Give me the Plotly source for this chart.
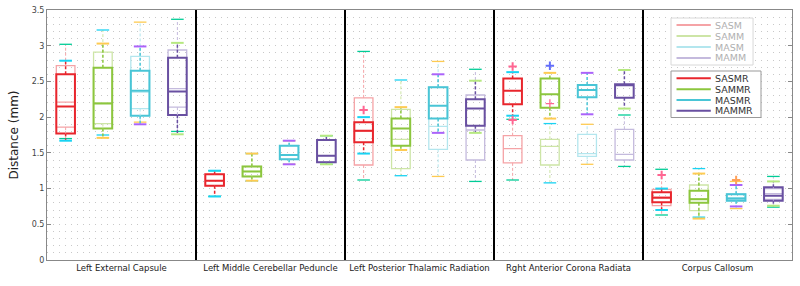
import plotly.graph_objects as go

# ---------------- data ----------------
categories = ["Left External Capsule", "Left Middle Cerebellar Peduncle",
              "Left Posterior Thalamic Radiation", "Rght Anterior Corona Radiata",
              "Corpus Callosum"]

# each row: [lower whisker, q1, median, q3, upper whisker] per category
SASM = [[1.70, 1.86, 2.21, 2.72, 3.02],
        [0.89, 1.04, 1.11, 1.20, 1.25],
        [1.12, 1.33, 1.80, 2.27, 2.92],
        [1.12, 1.36, 1.56, 1.74, 1.97],
        [0.63, 0.76, 0.88, 0.99, 1.27]]
SAMM = [[1.75, 1.91, 2.20, 2.91, 3.22],
        [1.11, 1.17, 1.24, 1.31, 1.49],
        [1.18, 1.28, 1.69, 2.11, 2.52],
        [1.08, 1.33, 1.59, 1.69, 1.91],
        [0.60, 0.69, 0.86, 1.05, 1.28]]
MASM = [[1.93, 2.12, 2.35, 2.85, 3.33],
        [1.34, 1.41, 1.47, 1.60, 1.67],
        [1.17, 1.55, 1.87, 2.42, 2.78],
        [1.34, 1.45, 1.49, 1.76, 1.90],
        [0.72, 0.83, 0.87, 0.93, 1.10]]
MAMM = [[1.80, 2.14, 2.40, 2.94, 3.37],
        [1.34, 1.37, 1.46, 1.68, 1.74],
        [1.10, 1.40, 1.82, 2.31, 2.67],
        [1.31, 1.40, 1.48, 1.83, 2.03],
        [0.74, 0.85, 0.93, 1.00, 1.17]]
SASMR = [[1.67, 1.77, 2.15, 2.60, 2.79],
         [0.89, 1.04, 1.11, 1.20, 1.25],
         [1.49, 1.65, 1.81, 1.93, 2.00],
         [2.02, 2.18, 2.37, 2.54, 2.63],
         [0.70, 0.81, 0.87, 0.95, 1.00]]
SAMMR = [[1.71, 1.84, 2.19, 2.69, 3.03],
         [1.11, 1.17, 1.24, 1.31, 1.49],
         [1.54, 1.60, 1.84, 1.98, 2.14],
         [1.98, 2.13, 2.32, 2.54, 2.62],
         [0.58, 0.80, 0.85, 0.97, 1.21]]
MASMR = [[1.90, 2.02, 2.37, 2.65, 2.99],
         [1.34, 1.41, 1.47, 1.60, 1.67],
         [1.78, 1.98, 2.16, 2.42, 2.60],
         [2.04, 2.28, 2.38, 2.45, 2.62],
         [0.75, 0.83, 0.86, 0.92, 1.05]]
MAMMR = [[1.76, 2.03, 2.36, 2.83, 3.04],
         [1.34, 1.37, 1.46, 1.68, 1.74],
         [1.78, 1.88, 2.12, 2.25, 2.51],
         [2.12, 2.27, 2.45, 2.46, 2.66],
         [0.76, 0.83, 0.90, 1.02, 1.10]]

# outliers (category index, value)
SASM_out = []
SAMM_out = [(3, 2.19)]
MASM_out = []
MAMM_out = []
SASMR_out = [(2, 2.10), (3, 2.71), (3, 1.96), (4, 1.19)]
SAMMR_out = [(3, 2.72)]
MASMR_out = [(4, 1.12)]
MAMMR_out = []

series_names = ["SASM", "SAMM", "MASM", "MAMM", "SASMR", "SAMMR", "MASMR", "MAMMR"]
y_ticks = [0, 0.5, 1, 1.5, 2, 2.5, 3, 3.5]

# ---------------- styling ----------------
faded_colors = ["#f5a3a6", "#cde5a6", "#b3e6ee", "#c4badd"]
strong_colors = ["#e8262d", "#8cc63e", "#49c5d6", "#6950a1"]

stats = [SASM, SAMM, MASM, MAMM, SASMR, SAMMR, MASMR, MAMMR]
outs = [SASM_out, SAMM_out, MASM_out, MAMM_out, SASMR_out, SAMMR_out, MASMR_out, MAMMR_out]
colors = faded_colors + strong_colors
widths = [1.3] * 4 + [2.0] * 4

n_groups = 4
fig = go.Figure()

for s, (name, data, out, col, lw) in enumerate(zip(series_names, stats, outs, colors, widths)):
    g = s % n_groups
    pos = [c * n_groups + g + 0.5 for c in range(len(categories))]
    lo = [r[0] for r in data]
    q1 = [r[1] for r in data]
    med = [r[2] for r in data]
    q3 = [r[3] for r in data]
    hi = [r[4] for r in data]
    fig.add_trace(go.Box(x=pos, q1=q1, median=med, q3=q3, lowerfence=q1, upperfence=q3,
                         width=0.5, whiskerwidth=0, line=dict(color=col, width=lw),
                         fillcolor="rgba(0,0,0,0)", name=name, showlegend=False,
                         hoverinfo="skip"))
    wx, wy = [], []
    for p, a, b, c, d in zip(pos, lo, q1, q3, hi):
        wx += [p, p, None, p, p, None]
        wy += [c, d, None, b, a, None]
    fig.add_trace(go.Scatter(x=wx, y=wy, mode="lines", showlegend=False, hoverinfo="skip",
                             line=dict(color=col, width=max(lw - 0.5, 1), dash="3px,2px")))
    fig.add_trace(go.Scatter(x=pos + pos, y=lo + hi, mode="markers", showlegend=False,
                             hoverinfo="skip",
                             marker=dict(symbol="line-ew-open", size=9,
                                         line=dict(color=col, width=lw))))
    if out:
        fig.add_trace(go.Scatter(x=[pos[c] for c, v in out], y=[v for c, v in out],
                                 mode="markers", showlegend=False, hoverinfo="skip",
                                 marker=dict(symbol="cross-thin-open", size=6,
                                             line=dict(color=col, width=lw))))

# panel separators
for c in range(1, len(categories)):
    fig.add_shape(type="line", xref="x", yref="paper", x0=c * n_groups, x1=c * n_groups,
                  y0=0, y1=1, line=dict(color="black", width=2), layer="above")

# legend boxes (drawn as two framed lists, like the original)
def legend_box(names, cols, x0, x1, y0, y1, rows, textcol, border):
    fig.add_shape(type="rect", xref="paper", yref="paper", x0=x0, x1=x1, y0=y0, y1=y1,
                  line=dict(color=border, width=1), fillcolor="white", layer="above")
    for nm, cl, yy in zip(names, cols, rows):
        fig.add_shape(type="line", xref="paper", yref="paper", x0=0.845, x1=0.891,
                      y0=yy, y1=yy, line=dict(color=cl, width=2), layer="above")
        fig.add_annotation(xref="paper", yref="paper", x=0.894, y=yy, text=nm,
                           showarrow=False, xanchor="left", yanchor="middle",
                           font=dict(family="DejaVu Sans", size=9.5, color=textcol))

legend_box(series_names[:4], faded_colors, 0.8376, 0.9477, 0.78, 0.968,
           [0.94, 0.896, 0.852, 0.808], "#b0b0b0", "#d8d8d8")
legend_box(series_names[4:], strong_colors, 0.8376, 0.9584, 0.57, 0.756,
           [0.7268, 0.6828, 0.64, 0.5972], "#333333", "#999999")

fig.update_layout(
    width=800, height=286,
    margin=dict(l=47, r=8, t=10, b=26),
    paper_bgcolor="white", plot_bgcolor="white",
    boxmode="overlay",
    showlegend=False,
    font=dict(family="DejaVu Sans", size=9, color="#333"),
)
fig.update_xaxes(range=[0, len(categories) * n_groups], automargin=False,
                 tickvals=[c * n_groups + n_groups / 2 for c in range(len(categories))],
                 ticktext=categories, ticks="", showgrid=False, zeroline=False,
                 showline=True, linecolor="#888", linewidth=1, mirror=True,
                 tickfont=dict(family="DejaVu Sans", size=8.5, color="#222"))
fig.update_yaxes(range=[0, 3.5], tickvals=y_ticks, ticks="inside", ticklen=4,
                 automargin=False,
                 tickcolor="#888", mirror="ticks", showline=True, linecolor="#888",
                 linewidth=1, zeroline=False,
                 showgrid=True, gridcolor="#c8c8c8", griddash="1px,5px", gridwidth=1,
                 minor=dict(dtick=0.1, showgrid=True, gridcolor="#c8c8c8",
                            griddash="1px,5px", gridwidth=1),
                 tickfont=dict(family="DejaVu Sans", size=8, color="#444"),
                 title=dict(text="Distance (mm)", standoff=10,
                            font=dict(family="DejaVu Sans", size=12, color="#222")))

# remove the default 8px page margin so the figure fills the window exactly
fig.write_html("out.html", config={"displayModeBar": False},
               post_script="document.body.style.margin='0px';")
